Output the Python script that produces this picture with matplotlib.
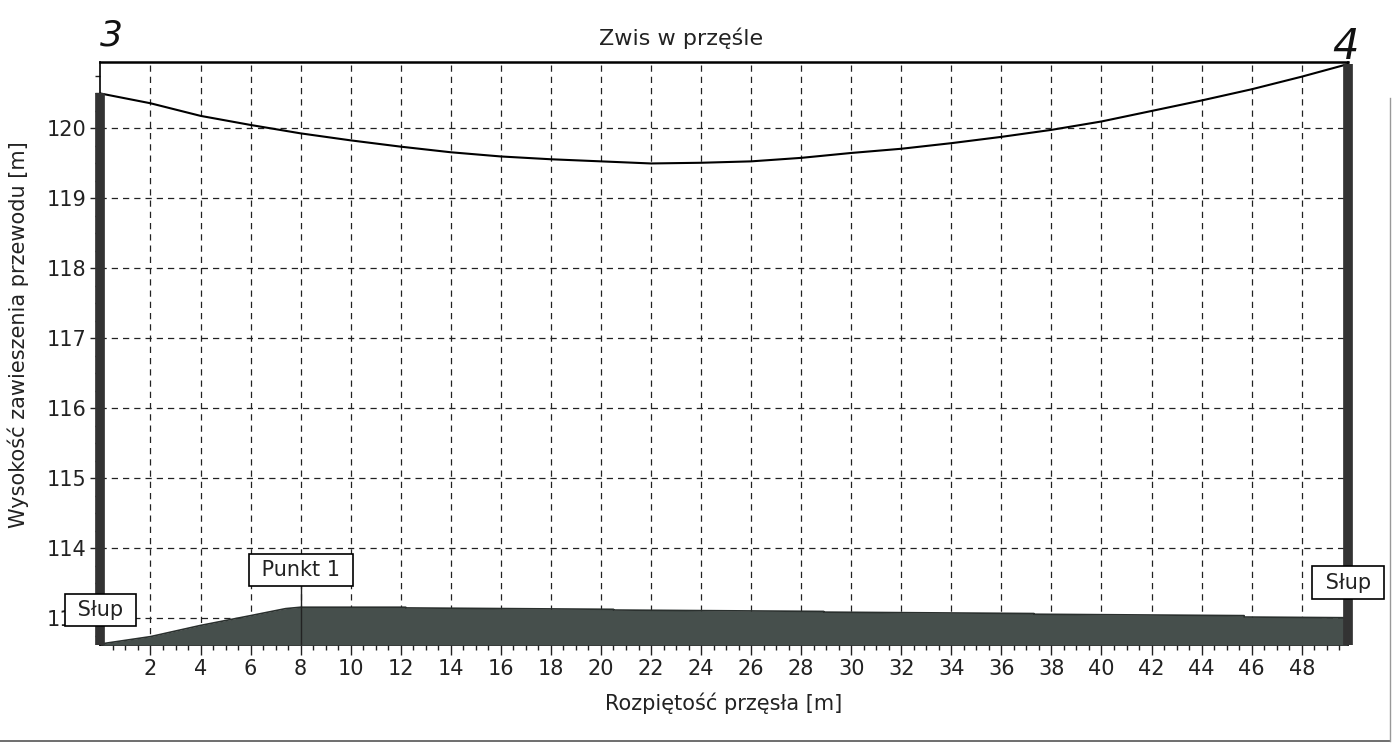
import numpy as np
import matplotlib
matplotlib.use("Agg")
import matplotlib.pyplot as plt
from matplotlib.lines import Line2D

# --- dane ---
# przewód (zwis)
cable_x = [0, 2, 4, 6, 8, 10, 12, 14, 16, 18, 20, 22, 24, 26, 28, 30, 32,
           34, 36, 38, 40, 42, 44, 46, 48, 49.85]
cable_y = [120.50, 120.36, 120.18, 120.05, 119.93, 119.83, 119.74, 119.66,
           119.60, 119.56, 119.53, 119.50, 119.51, 119.53, 119.58, 119.65,
           119.71, 119.79, 119.88, 119.98, 120.10, 120.25, 120.40, 120.56,
           120.74, 120.92]

# profil terenu
terrain_x = [0.1, 2, 4, 6, 7.4, 8, 12.2, 12.2, 20.5, 20.5, 28.9, 28.9,
             37.3, 37.3, 45.7, 45.7, 49.85]
terrain_y = [112.64, 112.74, 112.90, 113.04, 113.14, 113.16, 113.16, 113.15,
             113.13, 113.12, 113.10, 113.09, 113.07, 113.06, 113.04, 113.02,
             113.01]

# słupy i punkty
pole_x = [0, 49.85]
pole_top = [120.50, 120.92]
pole_label = ["Słup", "Słup"]
pole_label_y = [113.12, 113.51]
point_x = 8
point_label = "Punkt 1"
point_label_y = 113.69

x_ticks = list(range(2, 50, 2))
y_ticks = list(range(113, 121))
x_lim = (0, 49.85)
y_lim = (112.62, 120.95)

FS = 15
ink = "#222222"
fill_col = "#464f4c"

fig = plt.figure(figsize=(13.93, 7.53), dpi=100)
ax = fig.add_axes([0.0721, 0.1434, 0.8956, 0.7743])

ax.set_xlim(*x_lim)
ax.set_ylim(*y_lim)

# siatka
grid_kw = dict(color=ink, lw=0.9, linestyle=(0, (5, 4)), zorder=1)
for gx in x_ticks:
    ax.axvline(gx, **grid_kw)
for gy in y_ticks:
    ax.axhline(gy, **grid_kw)

# teren
ax.fill_between(terrain_x, y_lim[0], terrain_y, color=fill_col, lw=0, zorder=3)
ax.plot(terrain_x, terrain_y, color="#2a302e", lw=1.2, zorder=3)

# przewód
ax.plot(cable_x, cable_y, color="black", lw=1.5, zorder=4)

# słupy
for px_, pt in zip(pole_x, pole_top):
    ax.plot([px_, px_], [y_lim[0], pt], color="#333333", lw=7,
            solid_capstyle="butt", clip_on=False, zorder=5)

# punkt 1 - linia łącząca
ax.plot([point_x, point_x], [y_lim[0], point_label_y], color="#222222",
        lw=1, zorder=4)

box = dict(boxstyle="square,pad=0.3", fc="white", ec="black", lw=1.2)
for px_, ly, lab in zip(pole_x, pole_label_y, pole_label):
    ax.text(px_, ly, " " + lab + " ", ha="center", va="center", fontsize=15,
            bbox=box, clip_on=False, zorder=10, color=ink)
ax.text(point_x, point_label_y, " " + point_label + " ", ha="center",
        va="center", fontsize=15, bbox=box, clip_on=False, zorder=10,
        color=ink)

# osie
ax.set_xticks(x_ticks)
ax.set_xticks(np.arange(0.5, 50, 0.5), minor=True)
ax.set_yticks(y_ticks)
ax.set_yticks(np.arange(112.75, 121, 0.25), minor=True)
ax.tick_params(which="major", direction="out", length=7, width=1,
               labelsize=FS, pad=3, colors=ink)
ax.tick_params(which="minor", direction="out", length=3.5, width=1,
               colors=ink)
for s in ax.spines.values():
    s.set_color("black")
ax.spines["top"].set_linewidth(1.8)
ax.spines["left"].set_linewidth(1.2)
ax.spines["right"].set_linewidth(1.2)
ax.spines["bottom"].set_linewidth(1.2)

# teksty
fig.text(0.489, 0.9495, "Zwis w przęśle", ha="center", va="center",
         fontsize=16, color=ink)
fig.text(0.5195, 0.066, "Rozpiętość przęsła [m]", ha="center", va="center",
         fontsize=FS, color=ink)
fig.text(0.013, 0.555, "Wysokość zawieszenia przewodu [m]", ha="center",
         va="center", rotation=90, fontsize=FS, color=ink)

# odręczne numery słupów
fig.text(0.080, 0.953, "3", ha="center", va="center", fontsize=26,
         style="italic", color="#111111")
fig.text(0.966, 0.938, "4", ha="center", va="center", fontsize=30,
         style="italic", color="#111111")

# ramka skanu
fig.add_artist(Line2D([0, 0.998], [1 - 741 / 753, 1 - 741 / 753],
                      color="#555555", lw=1.2))
fig.add_artist(Line2D([0.998, 0.998], [1 - 741 / 753, 0.87],
                      color="#999999", lw=1.0))

fig.savefig("out.png", dpi=100)
